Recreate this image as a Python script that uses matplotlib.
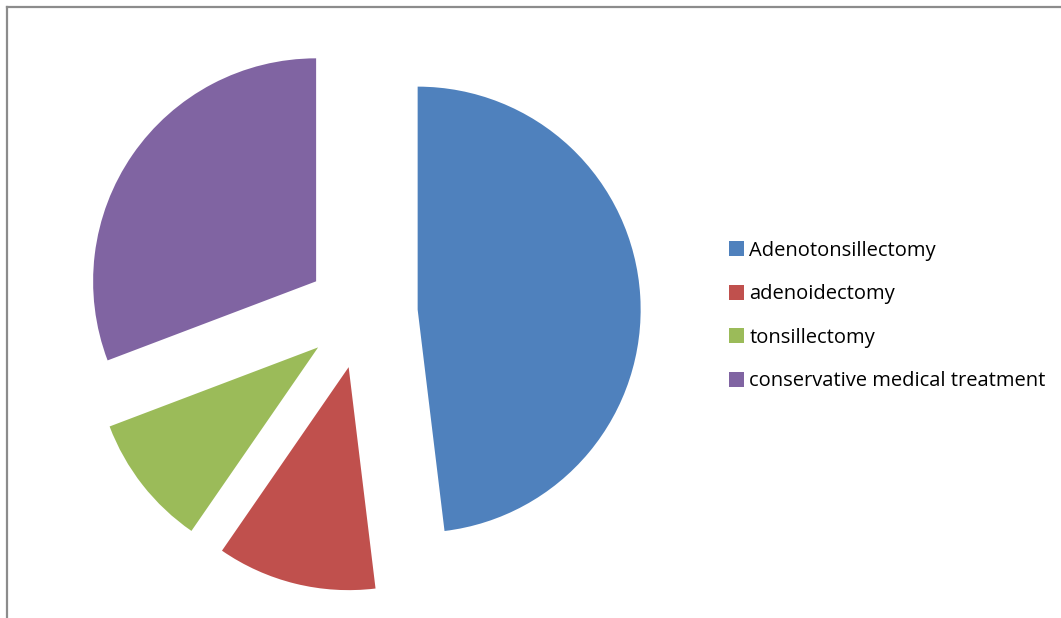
import matplotlib
matplotlib.use("Agg")
import matplotlib.pyplot as plt
from matplotlib.lines import Line2D

labels = ["Adenotonsillectomy", "adenoidectomy", "tonsillectomy",
          "conservative medical treatment"]
counts = [25, 6, 5, 16]
colors = ["#4f81bd", "#c0504d", "#9bbb59", "#8064a2"]

W, H = 1061, 618
fig = plt.figure(figsize=(W / 100, H / 100), dpi=100)

# pie axes: centre at (362, 313) px, radius 223 px
r_px = 223.0
cx, cy = 362.0, 313.0
xl, yl = 1.55, 1.35
ax = fig.add_axes([(cx - xl * r_px) / W, (H - cy - yl * r_px) / H,
                   2 * xl * r_px / W, 2 * yl * r_px / H])
wedges, _ = ax.pie(counts, colors=colors, startangle=90, counterclock=False,
                   explode=[0.25] * 4, radius=1.0,
                   wedgeprops=dict(linewidth=0))
ax.set_xlim(-xl, xl)
ax.set_ylim(-yl, yl)
ax.set_aspect("auto")
ax.axis("off")

# chart border (only top and left visible in the crop)
fig.add_artist(Line2D([6.5 / W, 1.0], [1 - 6.5 / H, 1 - 6.5 / H],
                      transform=fig.transFigure, color="#8c8c8c", lw=1.6))
fig.add_artist(Line2D([6.5 / W, 6.5 / W], [0, 1 - 6.5 / H],
                      transform=fig.transFigure, color="#8c8c8c", lw=1.6))

leg = fig.legend(wedges, labels, loc="center left",
                 bbox_to_anchor=(711 / W, 1 - 316 / H),
                 frameon=False, handlelength=0.75, handleheight=0.75,
                 handletextpad=0.25, labelspacing=1.17,
                 prop=dict(family="Open Sans", size=14.5))

fig.savefig("out.png", dpi=100)
